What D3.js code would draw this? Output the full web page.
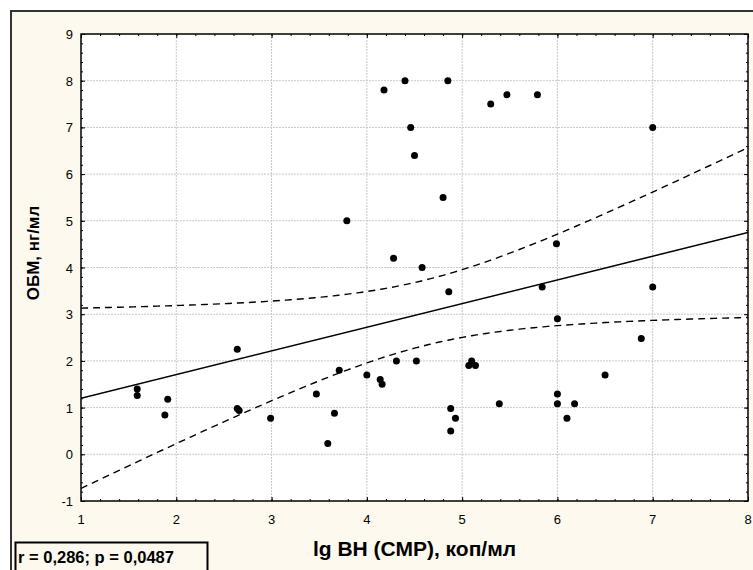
<!DOCTYPE html>
<html><head><meta charset="utf-8">
<script src="https://cdn.jsdelivr.net/npm/d3@7"></script>
<style>
html,body{margin:0;padding:0;background:#fff;}
svg{display:block;font-family:"Liberation Sans",Arial,sans-serif;}
</style></head>
<body>
<svg id="c" width="753" height="570"></svg>
<script>
// ---- data ----
const xValues = [1.59,1.59,1.91,1.88,2.64,2.64,2.66,2.99,3.47,3.66,3.59,3.71,4.00,4.18,4.40,4.85,4.46,4.50,4.80,3.79,4.28,4.58,5.30,5.47,5.79,5.99,4.86,5.84,6.00,4.14,4.16,4.31,4.52,4.88,4.93,4.88,5.07,5.10,5.14,5.39,6.00,6.00,6.18,6.10,6.50,7.00,6.88,7.00];
const yValues = [1.40,1.26,1.18,0.84,2.25,0.98,0.94,0.77,1.29,0.88,0.23,1.80,1.70,7.80,8.00,8.00,7.00,6.40,5.50,5.00,4.20,4.00,7.50,7.70,7.70,4.51,3.48,3.58,2.90,1.60,1.50,2.00,2.00,0.98,0.77,0.50,1.90,2.00,1.90,1.08,1.29,1.08,1.08,0.77,1.70,3.58,2.48,7.00];
const xTicks = [1,2,3,4,5,6,7,8];
const yTicks = [-1,0,1,2,3,4,5,6,7,8,9];
const fitIntercept = 0.693, fitSlope = 0.507;   // regression line
const ciA = 0.49, ciB = 0.247, ciXMean = 4.62;   // 95% band: half-width^2 = A + B (x - mean)^2
const xTitle = "lg ВН (СМР), коп/мл";
const yTitle = "ОБМ, нг/мл";
const statsText = "r = 0,286; p = 0,0487";

// ---- layout ----
const svg = d3.select("#c");
const L = 81, R = 748, T = 34, B = 501;
const x = d3.scaleLinear().domain([1,8]).range([L,R]);
const y = d3.scaleLinear().domain([-1,9]).range([B,T]);

// outer frame
svg.append("rect").attr("x",11).attr("y",11).attr("width",760).attr("height",570)
  .attr("fill","#fdf9ee").attr("stroke","#333").attr("stroke-width",2);

// plot background
svg.append("rect").attr("x",L).attr("y",T).attr("width",R-L).attr("height",B-T).attr("fill","#fff");

// grid
const g = svg.append("g");
g.selectAll(".gx").data(xTicks.slice(1,-1)).join("line")
  .attr("x1",d=>x(d)).attr("x2",d=>x(d)).attr("y1",T).attr("y2",B)
  .attr("stroke","#c8c8c8").attr("stroke-dasharray","2,1").attr("stroke-width",1);
g.selectAll(".gy").data(yTicks.slice(1,-1)).join("line")
  .attr("y1",d=>y(d)).attr("y2",d=>y(d)).attr("x1",L).attr("x2",R)
  .attr("stroke","#c8c8c8").attr("stroke-dasharray","2,1").attr("stroke-width",1);

// axes with inward ticks
const minorX = d3.range(1,8.001,0.2), minorY = d3.range(-1,9.001,0.2);
function axisTicks(axisGen, tr){
  const a = svg.append("g").attr("transform",tr).call(axisGen);
  a.select(".domain").remove();
  a.selectAll("line").attr("stroke","#000");
  return a;
}
axisTicks(d3.axisBottom(x).tickValues(minorX).tickSize(-2).tickFormat(""), `translate(0,${B})`);
axisTicks(d3.axisTop(x).tickValues(minorX).tickSize(-2).tickFormat(""), `translate(0,${T})`);
axisTicks(d3.axisLeft(y).tickValues(minorY).tickSize(-2).tickFormat(""), `translate(${L},0)`);
axisTicks(d3.axisRight(y).tickValues(minorY).tickSize(-2).tickFormat(""), `translate(${R},0)`);
axisTicks(d3.axisLeft(y).tickValues(yTicks).tickSize(-4).tickFormat(""), `translate(${L},0)`);
axisTicks(d3.axisRight(y).tickValues(yTicks).tickSize(-4).tickFormat(""), `translate(${R},0)`);
axisTicks(d3.axisBottom(x).tickValues(xTicks).tickSize(-4).tickFormat(""), `translate(0,${B})`);
axisTicks(d3.axisTop(x).tickValues(xTicks).tickSize(-4).tickFormat(""), `translate(0,${T})`);

// tick labels
svg.selectAll(".xl").data(xTicks).join("text")
  .attr("x",d=>x(d)).attr("y",B+23).attr("text-anchor","middle")
  .attr("font-size",13).attr("fill","#000").text(d=>d);
svg.selectAll(".yl").data(yTicks).join("text")
  .attr("x",L-8).attr("y",d=>y(d)+5).attr("text-anchor","end")
  .attr("font-size",13).attr("fill","#000").text(d=>d);

// clip for lines
svg.append("clipPath").attr("id","pc").append("rect").attr("x",L).attr("y",T).attr("width",R-L).attr("height",B-T);

// regression & band
const xs = d3.range(1,8.0001,0.05);
const fit = v => fitIntercept + fitSlope*v;
const hw = v => Math.sqrt(ciA + ciB*(v-ciXMean)*(v-ciXMean));
const line = d3.line().x(d=>x(d[0])).y(d=>y(d[1]));
const lg = svg.append("g").attr("clip-path","url(#pc)");
lg.append("path").attr("d",line(xs.map(v=>[v,fit(v)+hw(v)])))
  .attr("fill","none").attr("stroke","#000").attr("stroke-width",1.4).attr("stroke-dasharray","7,5");
lg.append("path").attr("d",line(xs.map(v=>[v,fit(v)-hw(v)])))
  .attr("fill","none").attr("stroke","#000").attr("stroke-width",1.4).attr("stroke-dasharray","7,5");
lg.append("path").attr("d",line([[1,fit(1)],[8,fit(8)]]))
  .attr("fill","none").attr("stroke","#000").attr("stroke-width",1.5);

// points
svg.append("g").selectAll("circle").data(xValues.map((v,i)=>[v,yValues[i]])).join("circle")
  .attr("cx",d=>x(d[0])).attr("cy",d=>y(d[1])).attr("r",3.5).attr("fill","#000");

// plot border
svg.append("rect").attr("x",L).attr("y",T).attr("width",R-L).attr("height",B-T)
  .attr("fill","none").attr("stroke","#000").attr("stroke-width",1.5);

// titles
svg.append("text").attr("x",(L+R)/2).attr("y",556).attr("text-anchor","middle")
  .attr("font-size",21).attr("font-weight","bold").attr("fill","#000").text(xTitle);
svg.append("text").attr("transform","translate(39,253) rotate(-90)").attr("text-anchor","middle")
  .attr("font-size",17).attr("font-weight","bold").attr("fill","#000").text(yTitle);

// stats box
svg.append("rect").attr("x",15.5).attr("y",542.5).attr("width",192).attr("height",30)
  .attr("fill","#fdf9ee").attr("stroke","#000").attr("stroke-width",2);
svg.append("text").attr("x",18).attr("y",563).attr("font-size",16.5).attr("font-weight","bold")
  .attr("fill","#000").text(statsText);
</script>
</body></html>
